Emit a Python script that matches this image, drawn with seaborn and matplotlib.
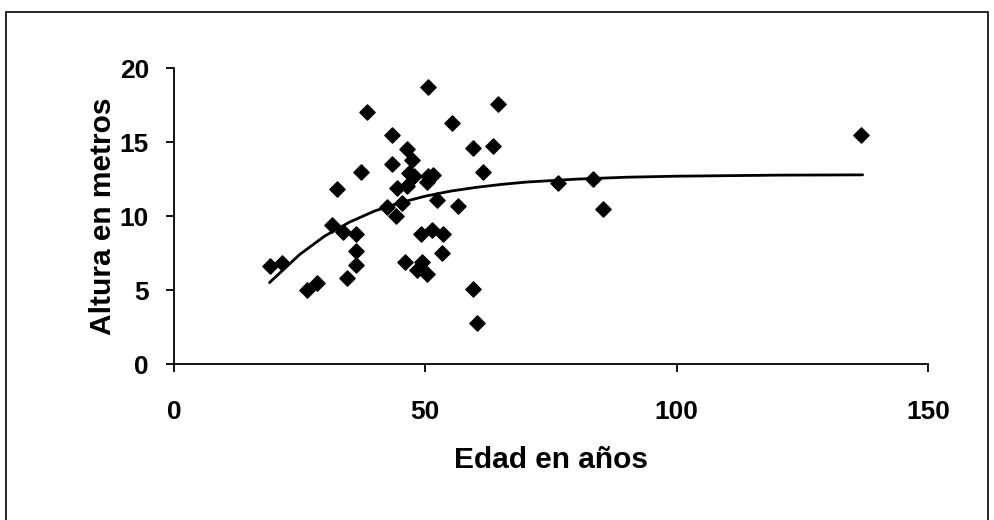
import numpy as np
import pandas as pd
import seaborn as sns
import matplotlib.pyplot as plt
from matplotlib.patches import Rectangle

# Scatter values
edad = [19.0, 21.4, 26.4, 28.5, 31.4, 32.4, 33.6, 34.4, 36.3, 36.3,
        36.3, 37.3, 38.4, 42.3, 43.3, 43.3, 44.1, 44.3, 45.3, 46.3,
        47.3, 46.7, 47.7, 46.3, 46.0, 48.3, 49.1, 49.3, 50.3, 50.6,
        51.6, 50.6, 50.4, 51.3, 52.4, 53.6, 53.3, 55.4, 56.4, 59.4,
        59.5, 60.3, 61.5, 63.5, 64.5, 76.4, 83.4, 85.3, 136.7]
altura = [6.6, 6.8, 5.0, 5.5, 9.4, 11.8, 8.9, 5.8, 8.8, 7.65,
          6.7, 13.0, 17.0, 10.6, 15.5, 13.5, 10.0, 11.9, 10.9, 14.5,
          13.8, 12.9, 12.7, 12.0, 6.9, 6.35, 8.8, 6.9, 12.3, 12.7,
          12.8, 18.7, 6.1, 9.05, 11.1, 8.8, 7.5, 16.3, 10.7, 5.1,
          14.6, 2.8, 13.0, 14.7, 17.6, 12.2, 12.5, 10.5, 15.5]

# Trend curve
curva_x = [19, 25, 30, 35, 40, 45, 50, 55, 60, 65, 70, 80, 90, 100, 120, 137]
curva_y = [5.5, 7.4, 8.65, 9.6, 10.35, 10.9, 11.34, 11.68, 11.93, 12.13,
           12.29, 12.49, 12.62, 12.69, 12.76, 12.78]

df = pd.DataFrame({'Edad': edad, 'Altura': altura})
trend = pd.DataFrame({'Edad': curva_x, 'Altura': curva_y})

sns.set_style('ticks')
plt.rcParams['font.family'] = ['Liberation Sans', 'DejaVu Sans']

fig = plt.figure(figsize=(9.95, 5.2), dpi=100)
ax = fig.add_axes([174 / 995, 1 - 364 / 520, (928 - 174) / 995, (364 - 68) / 520])

sns.lineplot(x='Edad', y='Altura', data=trend, color='black', linewidth=2,
             ax=ax)
sns.scatterplot(x='Edad', y='Altura', data=df, marker='D', s=60,
                color='black', edgecolor='black', linewidth=1, ax=ax)

ax.set_xlim(0, 150)
ax.set_ylim(0, 20)
ax.set_xticks([0, 50, 100, 150])
ax.set_yticks([0, 5, 10, 15, 20])
sns.despine(ax=ax)
for s in ['left', 'bottom']:
    ax.spines[s].set_linewidth(1.3)
    ax.spines[s].set_color('black')
ax.tick_params(axis='both', direction='out', length=6, width=1.3,
               labelsize=19, colors='black')
ax.tick_params(axis='x', pad=20)
ax.tick_params(axis='y', pad=12)
for lab in ax.get_xticklabels() + ax.get_yticklabels():
    lab.set_fontweight('bold')

ax.set_xlabel('Edad en años', fontsize=21.5, fontweight='bold',
              color='black', labelpad=16)
ax.set_ylabel('Altura en metros', fontsize=21.5, fontweight='bold',
              color='black', labelpad=2)

# outer chart frame
fig.patches.append(Rectangle((6 / 995, -0.05), (988 - 6) / 995, 1 - 12 / 520 + 0.05,
                             transform=fig.transFigure, fill=False,
                             edgecolor='black', linewidth=1.2))

fig.savefig('out.png', dpi=100)
